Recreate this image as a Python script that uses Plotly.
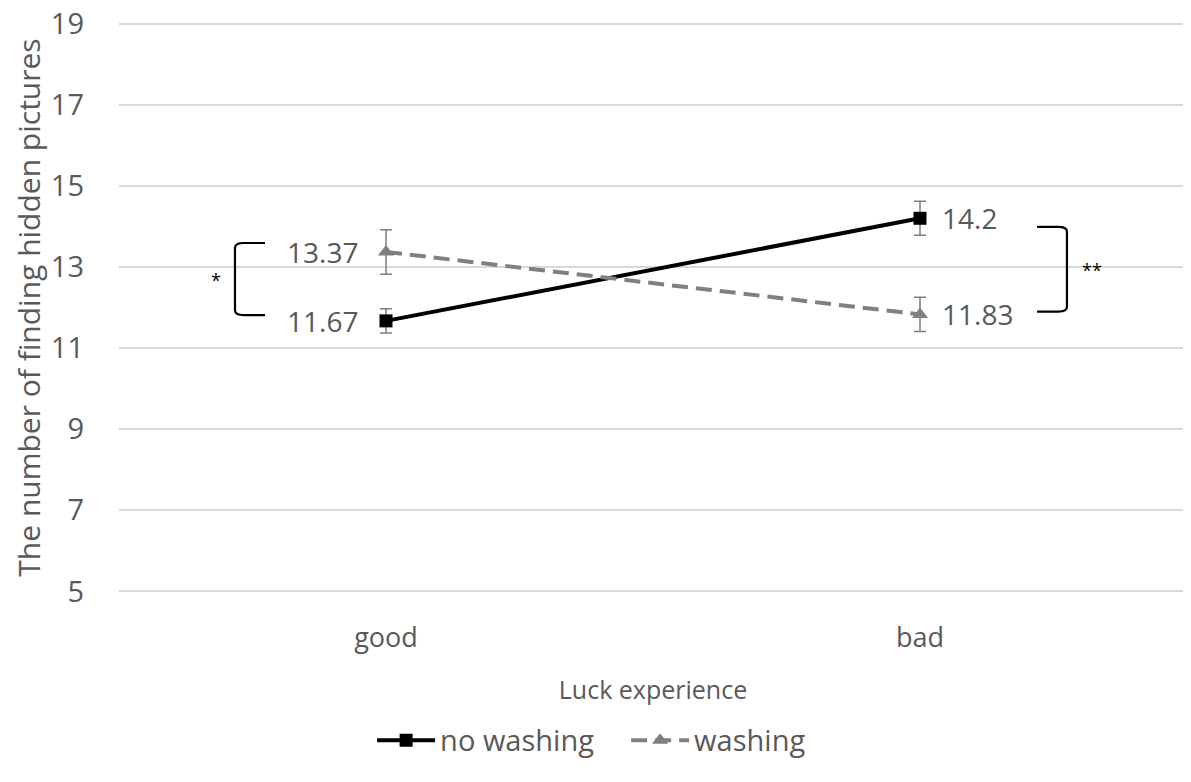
import plotly.graph_objects as go

categories = ["good", "bad"]
no_washing = [11.67, 14.2]
washing = [13.37, 11.83]
no_washing_err = [0.3, 0.42]
washing_err = [0.55, 0.42]
y_ticks = [5, 7, 9, 11, 13, 15, 17, 19]

FONT = "Open Sans"
TXT = "#595959"

fig = go.Figure()
fig.add_trace(go.Scatter(
    x=categories, y=no_washing, name="no washing", mode="lines+markers",
    line=dict(color="black", width=4),
    marker=dict(symbol="square", size=13, color="black"),
    error_y=dict(type="data", array=no_washing_err, color="#7f7f7f", thickness=1.5, width=6),
))
fig.add_trace(go.Scatter(
    x=categories, y=washing, name="washing", mode="lines+markers",
    line=dict(color="#808080", width=4, dash="16px,8px"),
    marker=dict(symbol="triangle-up", size=14, color="#808080"),
    error_y=dict(type="data", array=washing_err, color="#7f7f7f", thickness=1.5, width=6),
))

# value labels
for i, c in enumerate(categories):
    for vals in (no_washing, washing):
        fig.add_annotation(
            x=c, y=vals[i], text=f"{vals[i]:g}", showarrow=False,
            xanchor="right" if i == 0 else "left",
            xshift=-26 if i == 0 else 20,
            font=dict(family=FONT, size=28, color=TXT),
        )

# significance brackets
def bracket(x_tip, x_vert, y0, y1):
    r = 0.12
    sgn = 1 if x_vert > x_tip else -1
    dx = 0.008 * sgn
    return (f"M {x_tip},{y1} L {x_vert - dx},{y1} Q {x_vert},{y1} {x_vert},{y1 - r} "
            f"L {x_vert},{y0 + r} Q {x_vert},{y0} {x_vert - dx},{y0} L {x_tip},{y0}")

fig.add_shape(type="path", xref="paper", yref="y",
              path=bracket(0.1367, 0.1086, 11.81, 13.59),
              line=dict(color="black", width=2.2))
fig.add_shape(type="path", xref="paper", yref="y",
              path=bracket(0.8596, 0.8876, 11.9, 13.99),
              line=dict(color="black", width=2.2))
fig.add_annotation(xref="paper", yref="y", x=0.0843, y=12.68, text="*", showarrow=False,
                   font=dict(family=FONT, size=18, color="black"))
fig.add_annotation(xref="paper", yref="y", x=0.922, y=12.93, text="**", showarrow=False,
                   font=dict(family=FONT, size=18, color="black"))

fig.update_layout(
    width=1183, height=774,
    margin=dict(l=111, r=4, t=14, b=189),
    paper_bgcolor="white", plot_bgcolor="white",
    font=dict(family=FONT, color=TXT, size=24),
    showlegend=True,
    legend=dict(orientation="h", x=0.237, y=-0.258, xanchor="left", yanchor="middle",
                font=dict(family=FONT, size=29, color=TXT), itemwidth=58,
                entrywidth=181, traceorder="normal"),
)
fig.update_xaxes(
    type="category", range=[-0.5, 1.5], showgrid=False, zeroline=False, automargin=False,
    showline=False, ticks="", tickfont=dict(size=27, color=TXT), ticklabelstandoff=26,
    title=dict(text="Luck experience", font=dict(size=25, color=TXT), standoff=27),
)
fig.update_yaxes(
    range=[4.96, 19.04], tickvals=y_ticks, showgrid=True, gridcolor="#d9d9d9", gridwidth=1.5,
    zeroline=False, showline=False, ticks="", ticklabelstandoff=34, automargin=False,
    ticklabeloverflow="allow", tickfont=dict(size=29, color=TXT),
    title=dict(text="The number of finding hidden pictures", font=dict(size=30, color=TXT), standoff=6),
)

fig.write_html("out.html")
